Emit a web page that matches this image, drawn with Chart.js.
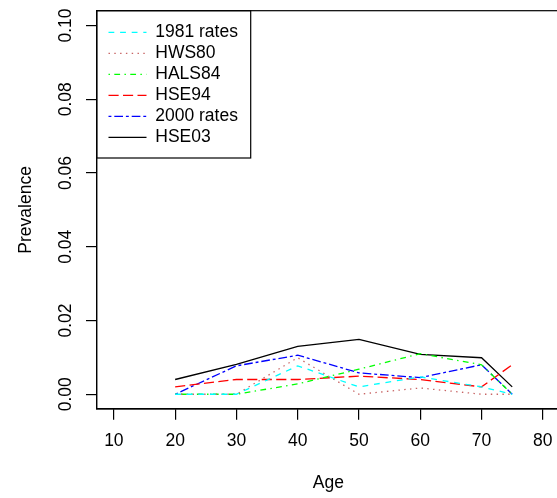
<!DOCTYPE html>
<html>
<head>
<meta charset="utf-8">
<title>Prevalence by age</title>
<script src="https://cdn.jsdelivr.net/npm/chart.js@4.4.1/dist/chart.umd.min.js"></script>
<style>
  html, body { margin: 0; padding: 0; background: #fff; overflow: hidden; }
  #wrap { width: 560px; height: 498px; }
</style>
</head>
<body>
<div id="wrap"><canvas id="prevChart" width="560" height="498"></canvas></div>
<script>
// values
const ages = [20, 30, 40, 50, 60, 70, 75];
const rates1981 = [0, 0, 0.0077, 0.002, 0.0047, 0.002, 0];
const hws80 = [0, 0, 0.0099, 0, 0.0017, 0, 0];
const hals84 = [0, 0, 0.0028, 0.0068, 0.011, 0.008, 0];
const hse94 = [0.002, 0.004, 0.004, 0.0049, 0.004, 0.002, 0.008];
const rates2000 = [0, 0.0077, 0.0106, 0.0058, 0.0045, 0.008, 0];
const hse03 = [0.004, 0.0081, 0.013, 0.0149, 0.0108, 0.0099, 0.002];

const xTicks = [10, 20, 30, 40, 50, 60, 70, 80];
const yTicks = [0, 0.02, 0.04, 0.06, 0.08, 0.1];
const yTickLabels = ['0.00', '0.02', '0.04', '0.06', '0.08', '0.10'];

const FONT = "'Liberation Sans', Arial, Helvetica, sans-serif";
const FS = 17.5;
const k = 1.45; // R line-type unit, scaled
const LW = 1.3;

Chart.defaults.color = '#000';
Chart.defaults.font.family = FONT;
Chart.defaults.font.size = FS;

const pts = (vals) => ages.map((a, i) => ({ x: a, y: vals[i] }));

const series = (label, vals, color, dash) => ({
  label: label,
  data: pts(vals),
  borderColor: color,
  backgroundColor: color,
  borderWidth: LW,
  borderDash: dash,
  pointRadius: 0,
  tension: 0,
  fill: false
});

// box around the plot region and the legend frame
const framePlugin = {
  id: 'frame',
  afterLayout(chart) {
    const a = chart.chartArea;
    const lg = chart.legend;
    lg.left = a.left + 8.3;
    lg.top = a.top + 9.5;
    lg.right = lg.left + 150;
    lg.bottom = lg.top + 200;
  },
  afterDraw(chart) {
    const a = chart.chartArea;
    const c = chart.ctx;
    c.save();
    c.strokeStyle = '#000';
    c.lineWidth = 1.2;
    c.setLineDash([]);
    c.strokeRect(a.left, a.top, a.right - a.left, a.bottom - a.top);
    c.strokeRect(a.left, a.top, 154, 147.3);
    c.restore();
  }
};

new Chart(document.getElementById('prevChart'), {
  type: 'line',
  data: {
    datasets: [
      series('1981 rates', rates1981, '#00FFFF', [4 * k, 4 * k]),
      series('HWS80', hws80, '#C86464', [1 * k, 3 * k]),
      series('HALS84', hals84, '#00FF00', [1 * k, 3 * k, 4 * k, 3 * k]),
      series('HSE94', hse94, '#FF0000', [7 * k, 3 * k]),
      series('2000 rates', rates2000, '#0000FF', [2 * k, 2 * k, 6 * k, 2 * k]),
      series('HSE03', hse03, '#000000', [])
    ]
  },
  options: {
    responsive: false,
    devicePixelRatio: 1,
    animation: false,
    layout: { padding: { left: 0, top: 10.7, right: 0, bottom: 0 } },
    plugins: {
      title: { display: false },
      tooltip: { enabled: false },
      legend: {
        position: 'chartArea',
        align: 'start',
        labels: {
          usePointStyle: true,
          pointStyle: 'line',
          pointStyleWidth: 38,
          padding: 3.5,
          color: '#000',
          font: { family: FONT, size: FS },
          generateLabels: (chart) => {
            const items = Chart.defaults.plugins.legend.labels.generateLabels(chart);
            items.forEach(it => {
              const ds = chart.data.datasets[it.datasetIndex];
              it.lineDash = ds.borderDash;
              it.lineWidth = ds.borderWidth;
              it.strokeStyle = ds.borderColor;
            });
            return items;
          }
        }
      }
    },
    scales: {
      x: {
        type: 'linear',
        min: 7.2,
        max: 82.8,
        afterBuildTicks: (s) => { s.ticks = xTicks.map(v => ({ value: v })); },
        afterFit: (s) => { s.height = 89; s.paddingLeft = 0; s.paddingRight = 0; },
        ticks: {
          autoSkip: false,
          maxRotation: 0,
          padding: 11.3,
          color: '#000',
          callback: (v) => String(v)
        },
        grid: { drawOnChartArea: false, drawTicks: true, tickLength: 10.7, color: '#000', lineWidth: 1.2 },
        border: { display: true, color: '#000', width: 1.2 },
        title: { display: true, text: 'Age', color: '#000', padding: { top: 0, bottom: 4 }, font: { size: FS } }
      },
      y: {
        type: 'linear',
        min: -0.004,
        max: 0.104,
        afterBuildTicks: (s) => { s.ticks = yTicks.map(v => ({ value: v })); },
        afterFit: (s) => { s.width = 96.7; s.paddingTop = 0; s.paddingBottom = 0; },
        ticks: {
          autoSkip: false,
          minRotation: 90,
          maxRotation: 90,
          crossAlign: 'center',
          padding: 3,
          color: '#000',
          callback: (v, i) => yTickLabels[i]
        },
        grid: { drawOnChartArea: false, drawTicks: true, tickLength: 10.7, color: '#000', lineWidth: 1.2 },
        border: { display: true, color: '#000', width: 1.2 },
        title: { display: true, text: 'Prevalence', color: '#000', padding: { top: 15.5, bottom: 0 }, font: { size: FS } }
      }
    }
  },
  plugins: [framePlugin]
});
</script>
</body>
</html>
